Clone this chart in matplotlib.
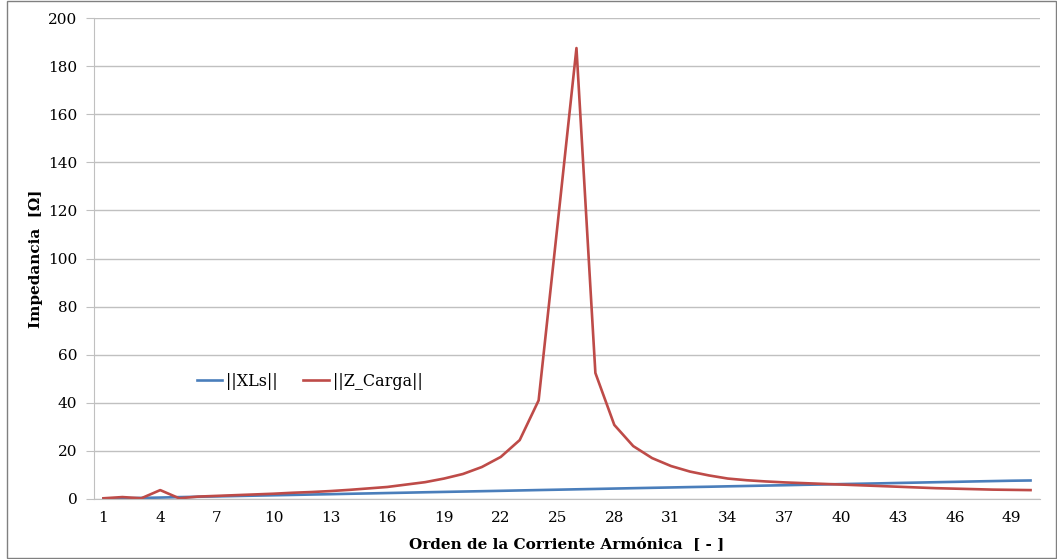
import matplotlib
matplotlib.use("Agg")
import matplotlib.pyplot as plt
from matplotlib.patches import Rectangle

# Orden armónico
orden = list(range(1, 51))

# ||XLs|| (casi lineal con el orden)
xls = [0.15, 0.3, 0.45, 0.6, 0.78, 0.93, 1.08, 1.24, 1.4, 1.55,
       1.7, 1.86, 2.0, 2.17, 2.32, 2.48, 2.63, 2.8, 2.95, 3.1,
       3.25, 3.4, 3.56, 3.72, 3.87, 4.03, 4.18, 4.34, 4.5, 4.65,
       4.8, 4.96, 5.1, 5.27, 5.42, 5.58, 5.73, 5.9, 6.05, 6.2,
       6.35, 6.5, 6.67, 6.82, 6.98, 7.13, 7.3, 7.45, 7.6, 7.7]

# ||Z_Carga|| con resonancia en el armónico 26
z_carga = [0.3, 0.8, 0.3, 3.7, 0.3, 1.0, 1.3, 1.6, 1.9, 2.2,
           2.6, 2.9, 3.3, 3.8, 4.4, 5.0, 6.0, 7.0, 8.5, 10.4,
           13.3, 17.5, 24.5, 41.0, 114.0, 187.5, 52.4, 30.8, 22.0, 17.0,
           13.7, 11.4, 9.8, 8.5, 7.8, 7.3, 6.9, 6.6, 6.3, 6.0,
           5.7, 5.4, 5.1, 4.8, 4.5, 4.3, 4.1, 3.9, 3.8, 3.7]

xticks = list(range(1, 50, 3))

plt.rcParams['font.family'] = ['DejaVu Serif']

fig = plt.figure(figsize=(10.57, 5.59), dpi=100)
ax = fig.add_axes([94 / 1057, 60 / 559, 946 / 1057, 481 / 559])

ax.plot(orden, xls, color='#4a7ebb', lw=1.9, label='||XLs||')
ax.plot(orden, z_carga, color='#be4b48', lw=1.9, label='||Z_Carga||')

ax.set_xlim(0.5, 50.5)
ax.set_ylim(0, 200)
ax.set_yticks(range(0, 201, 20))
ax.set_xticks(xticks)
ax.grid(axis='y', color='#c0c0c0', lw=1)
ax.set_axisbelow(True)

for s in ['top', 'right']:
    ax.spines[s].set_visible(False)
ax.spines['left'].set_color('#c0c0c0')
ax.spines['bottom'].set_color('#c0c0c0')
ax.tick_params(axis='y', length=6, color='#c0c0c0', labelsize=11, pad=6)
ax.tick_params(axis='x', length=0, labelsize=11, pad=9)

ax.set_xlabel('Orden de la Corriente Armónica  [ - ]', fontsize=11, fontweight='bold', labelpad=8)
ax.set_ylabel('Impedancia  [Ω]', fontsize=11, fontweight='bold', labelpad=4)

ax.legend(loc='center', bbox_to_anchor=(0.228, 0.245), ncol=2, frameon=False,
          fontsize=11.5, handlelength=1.6, handletextpad=0.25, columnspacing=1.6)

# borde del área del gráfico
fig.patches.append(Rectangle((7 / 1057, 1 / 559), 1049 / 1057, 557 / 559,
                             transform=fig.transFigure, fill=False,
                             edgecolor='#808080', lw=1))

fig.savefig('out.png', dpi=100)
